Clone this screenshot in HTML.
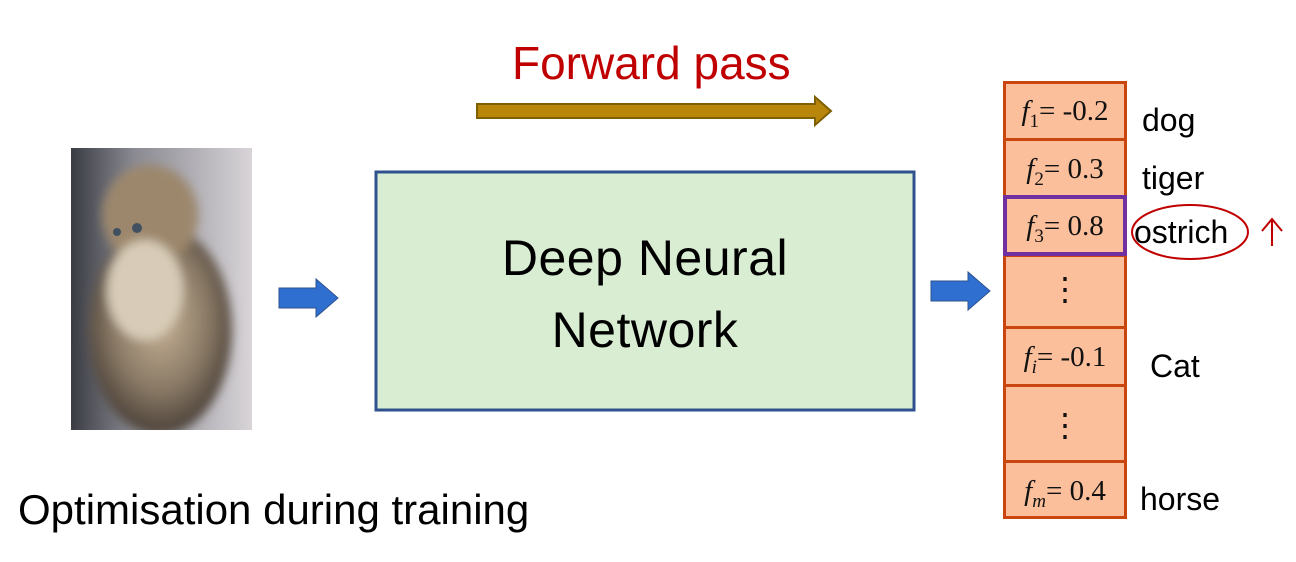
<!DOCTYPE html>
<html><head><style>
body{margin:0;width:1296px;height:562px;background:#fff;overflow:hidden;position:relative;font-family:"Liberation Sans","DejaVu Sans",sans-serif}
.a{position:absolute}
.cell{position:absolute;left:1003px;width:124px;background:#fbbf9b;box-sizing:border-box;border:3px solid #c9470f;font-family:"Liberation Serif",serif;font-size:29px;text-align:center;color:#111;white-space:nowrap}
.cell sub{font-size:19px}
.dots{font-size:32px}
.lab{position:absolute;font-size:32px;color:#000}
</style></head><body>
<div class="a" style="left:512px;top:36px;font-size:46px;color:#c00000;white-space:nowrap">Forward pass</div>
<svg class="a" style="left:0;top:0" width="1296" height="562">
<polygon points="477,104 815,104 815,97 831,111 815,125 815,118 477,118" fill="#b8860b" stroke="#7f6000" stroke-width="2"/>
<polygon points="279,288 316,288 316,279 338,298 316,317 316,308 279,308" fill="#2e6fd0" stroke="#2f528f" stroke-width="1"/>
<polygon points="931,281 968,281 968,272 990,291 968,310 968,301 931,301" fill="#2e6fd0" stroke="#2f528f" stroke-width="1"/>
<rect x="376" y="172" width="538" height="238" fill="#d9edd3" stroke="#2f528f" stroke-width="3"/>
<defs><linearGradient id="bg" x1="0" x2="1"><stop offset="0" stop-color="#3a3c44"/><stop offset="0.35" stop-color="#8a8a92"/><stop offset="1" stop-color="#d8d4d8"/></linearGradient>
<radialGradient id="cat" cx="0.5" cy="0.45" r="0.55"><stop offset="0" stop-color="#c9b497"/><stop offset="0.6" stop-color="#8a7a66"/><stop offset="1" stop-color="#4a4038"/></radialGradient>
<filter id="bl"><feGaussianBlur stdDeviation="5"/></filter>
<clipPath id="cp"><rect x="71" y="148" width="181" height="282"/></clipPath></defs>
<g clip-path="url(#cp)">
<rect x="71" y="148" width="181" height="282" fill="url(#bg)"/>
<g filter="url(#bl)">
<ellipse cx="160" cy="330" rx="72" ry="105" fill="url(#cat)"/>
<ellipse cx="150" cy="215" rx="48" ry="50" fill="#9c876c"/>
<ellipse cx="145" cy="290" rx="38" ry="50" fill="#d8ccb8"/>
</g>
<circle cx="137" cy="228" r="5" fill="#405060"/><circle cx="117" cy="232" r="4" fill="#405060"/>
</g>
<ellipse cx="1190" cy="232" rx="58" ry="27" fill="none" stroke="#c00000" stroke-width="2"/>
<line x1="1272" y1="220" x2="1272" y2="246" stroke="#c00000" stroke-width="2"/>
<polyline points="1262,231 1272,219 1282,231" fill="none" stroke="#c00000" stroke-width="2"/>
</svg>
<div class="a" style="left:376px;top:222px;width:538px;text-align:center;font-size:50px;line-height:72px;letter-spacing:0.5px">Deep Neural<br>Network</div>
<div class="a" style="left:18px;top:486px;font-size:42px;white-space:nowrap">Optimisation during training</div>
<div class="cell" style="top:81px;height:60px;line-height:54px"><i>f</i><sub>1</sub>= -0.2</div>
<div class="cell" style="top:138px;height:60px;line-height:56px"><i>f</i><sub>2</sub>= 0.3</div>
<div class="cell dots" style="top:254px;height:76px;line-height:64px">⋮</div>
<div class="cell" style="top:326px;height:61px;line-height:56px"><i>f<sub>i</sub></i>= -0.1</div>
<div class="cell dots" style="top:384px;height:79px;line-height:76px">⋮</div>
<div class="cell" style="top:460px;height:59px;line-height:56px"><i>f<sub>m</sub></i>= 0.4</div>
<div class="cell" style="top:195px;height:61px;line-height:54px;border:4px solid #7030a0"><i>f</i><sub>3</sub>= 0.8</div>
<div class="lab" style="left:1142px;top:102px">dog</div>
<div class="lab" style="left:1142px;top:160px">tiger</div>
<div class="lab" style="left:1134px;top:214px">ostrich</div>
<div class="lab" style="left:1150px;top:348px">Cat</div>
<div class="lab" style="left:1140px;top:481px">horse</div>
</body></html>
